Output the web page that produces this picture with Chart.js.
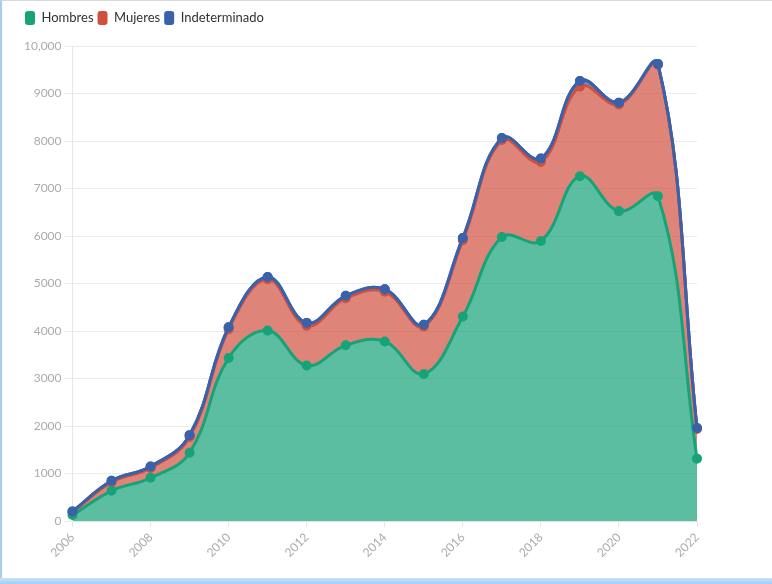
<!DOCTYPE html>
<html>
<head>
<meta charset="utf-8">
<script src="https://cdn.jsdelivr.net/npm/chart.js@4/dist/chart.umd.min.js"></script>
<style>
    html, body { margin: 0; padding: 0; background: #fff; }
    body { width: 772px; height: 584px; overflow: hidden; position: relative; }
    .frame {
        position: absolute; left: 0; top: 0; width: 770px; height: 577px;
        border-top: 1px solid #d8d8d8; border-left: 2px solid #a9cdf0;
    }
    .bar {
        position: absolute; left: 0; top: 578px; width: 772px; height: 6px;
        background: linear-gradient(#c5e0fa, #a6cdf3);
    }
    .chart-box { position: absolute; left: 0; top: 0; width: 770px; height: 576px; }
</style>
</head>
<body>
<div class="frame">
    <div class="chart-box"><canvas id="chart"></canvas></div>
</div>
<div class="bar"></div>
<script>
// ===== DATA =====
const years = ['2006', '2007', '2008', '2009', '2010', '2011', '2012', '2013', '2014',
    '2015', '2016', '2017', '2018', '2019', '2020', '2021', '2022'];
const hombres = [130, 638, 912, 1440, 3435, 4010, 3275, 3700, 3780, 3095, 4305, 5980, 5895, 7260, 6525, 6840, 1315];
const mujeres = [55, 181, 208, 330, 605, 1080, 837, 992, 1050, 1000, 1605, 2040, 1665, 1885, 2243, 2765, 625];
const indeterminado = [20, 30, 30, 40, 40, 50, 60, 50, 50, 40, 50, 45, 70, 120, 40, 15, 20];
const yMax = 10000;
const yStep = 1000;

// ===== HELPERS =====
function series(label, data, rgb, fill) {
    return {
        label: label,
        data: data,
        borderColor: 'rgb(' + rgb + ')',
        backgroundColor: 'rgba(' + rgb + ',0.7)',
        pointBackgroundColor: 'rgb(' + rgb + ')',
        pointBorderColor: 'rgb(' + rgb + ')',
        borderWidth: 3,
        pointRadius: 3.5,
        tension: 0.4,
        fill: fill
    };
}

// extra space under the legend
const legendMargin = {
    id: 'legendMargin',
    beforeInit(chart) {
        const fit = chart.legend.fit;
        chart.legend.fit = function () {
            fit.bind(chart.legend)();
            this.height += 11;
        };
    }
};

// top series line drawn again so it sits over the others
const topLineOnTop = {
    id: 'topLineOnTop',
    afterDatasetsDraw(chart) {
        const meta = chart.getDatasetMeta(chart.data.datasets.length - 1);
        const area = chart.chartArea;
        const ctx = chart.ctx;
        ctx.save();
        ctx.beginPath();
        ctx.rect(area.left - 6, area.top - 6, area.width + 12, area.height + 12);
        ctx.clip();
        meta.controller.draw();
        ctx.restore();
    }
};

const tickColor = '#ababab';
const font = { family: 'Lato', size: 12 };

new Chart(document.getElementById('chart'), {
    type: 'line',
    data: {
        labels: years,
        datasets: [
            series('Hombres', hombres, '22,163,120', 'origin'),
            series('Mujeres', mujeres, '208,80,63', '-1'),
            series('Indeterminado', indeterminado, '58,98,171', '-1')
        ]
    },
    plugins: [legendMargin, topLineOnTop],
    options: {
        responsive: true,
        maintainAspectRatio: false,
        animation: false,
        layout: { padding: { left: 19, right: 75, top: 6, bottom: 14 } },
        plugins: {
            legend: {
                position: 'top',
                align: 'start',
                labels: {
                    font: { family: 'Lato', size: 13 },
                    color: '#333',
                    boxWidth: 10,
                    boxHeight: 14,
                    useBorderRadius: true,
                    borderRadius: 3,
                    padding: 4,
                    generateLabels: chart => {
                        const items = Chart.defaults.plugins.legend.labels.generateLabels(chart);
                        items.forEach(it => { it.fillStyle = it.strokeStyle; it.lineWidth = 0; });
                        return items;
                    }
                }
            },
            tooltip: { enabled: false }
        },
        scales: {
            x: {
                grid: { drawOnChartArea: false, color: '#e6e6e6', tickLength: 6 },
                border: { color: '#e6e6e6' },
                ticks: {
                    color: tickColor, font: font,
                    minRotation: 45, maxRotation: 45,
                    autoSkip: true, maxTicksLimit: 9
                }
            },
            y: {
                stacked: true,
                min: 0,
                max: yMax,
                grid: { color: '#ececec', tickLength: 8 },
                border: { color: '#e6e6e6' },
                ticks: {
                    stepSize: yStep,
                    color: tickColor, font: font,
                    callback: v => v >= 10000 ? v.toLocaleString('en-US') : String(v)
                }
            }
        }
    }
});
</script>
</body>
</html>
